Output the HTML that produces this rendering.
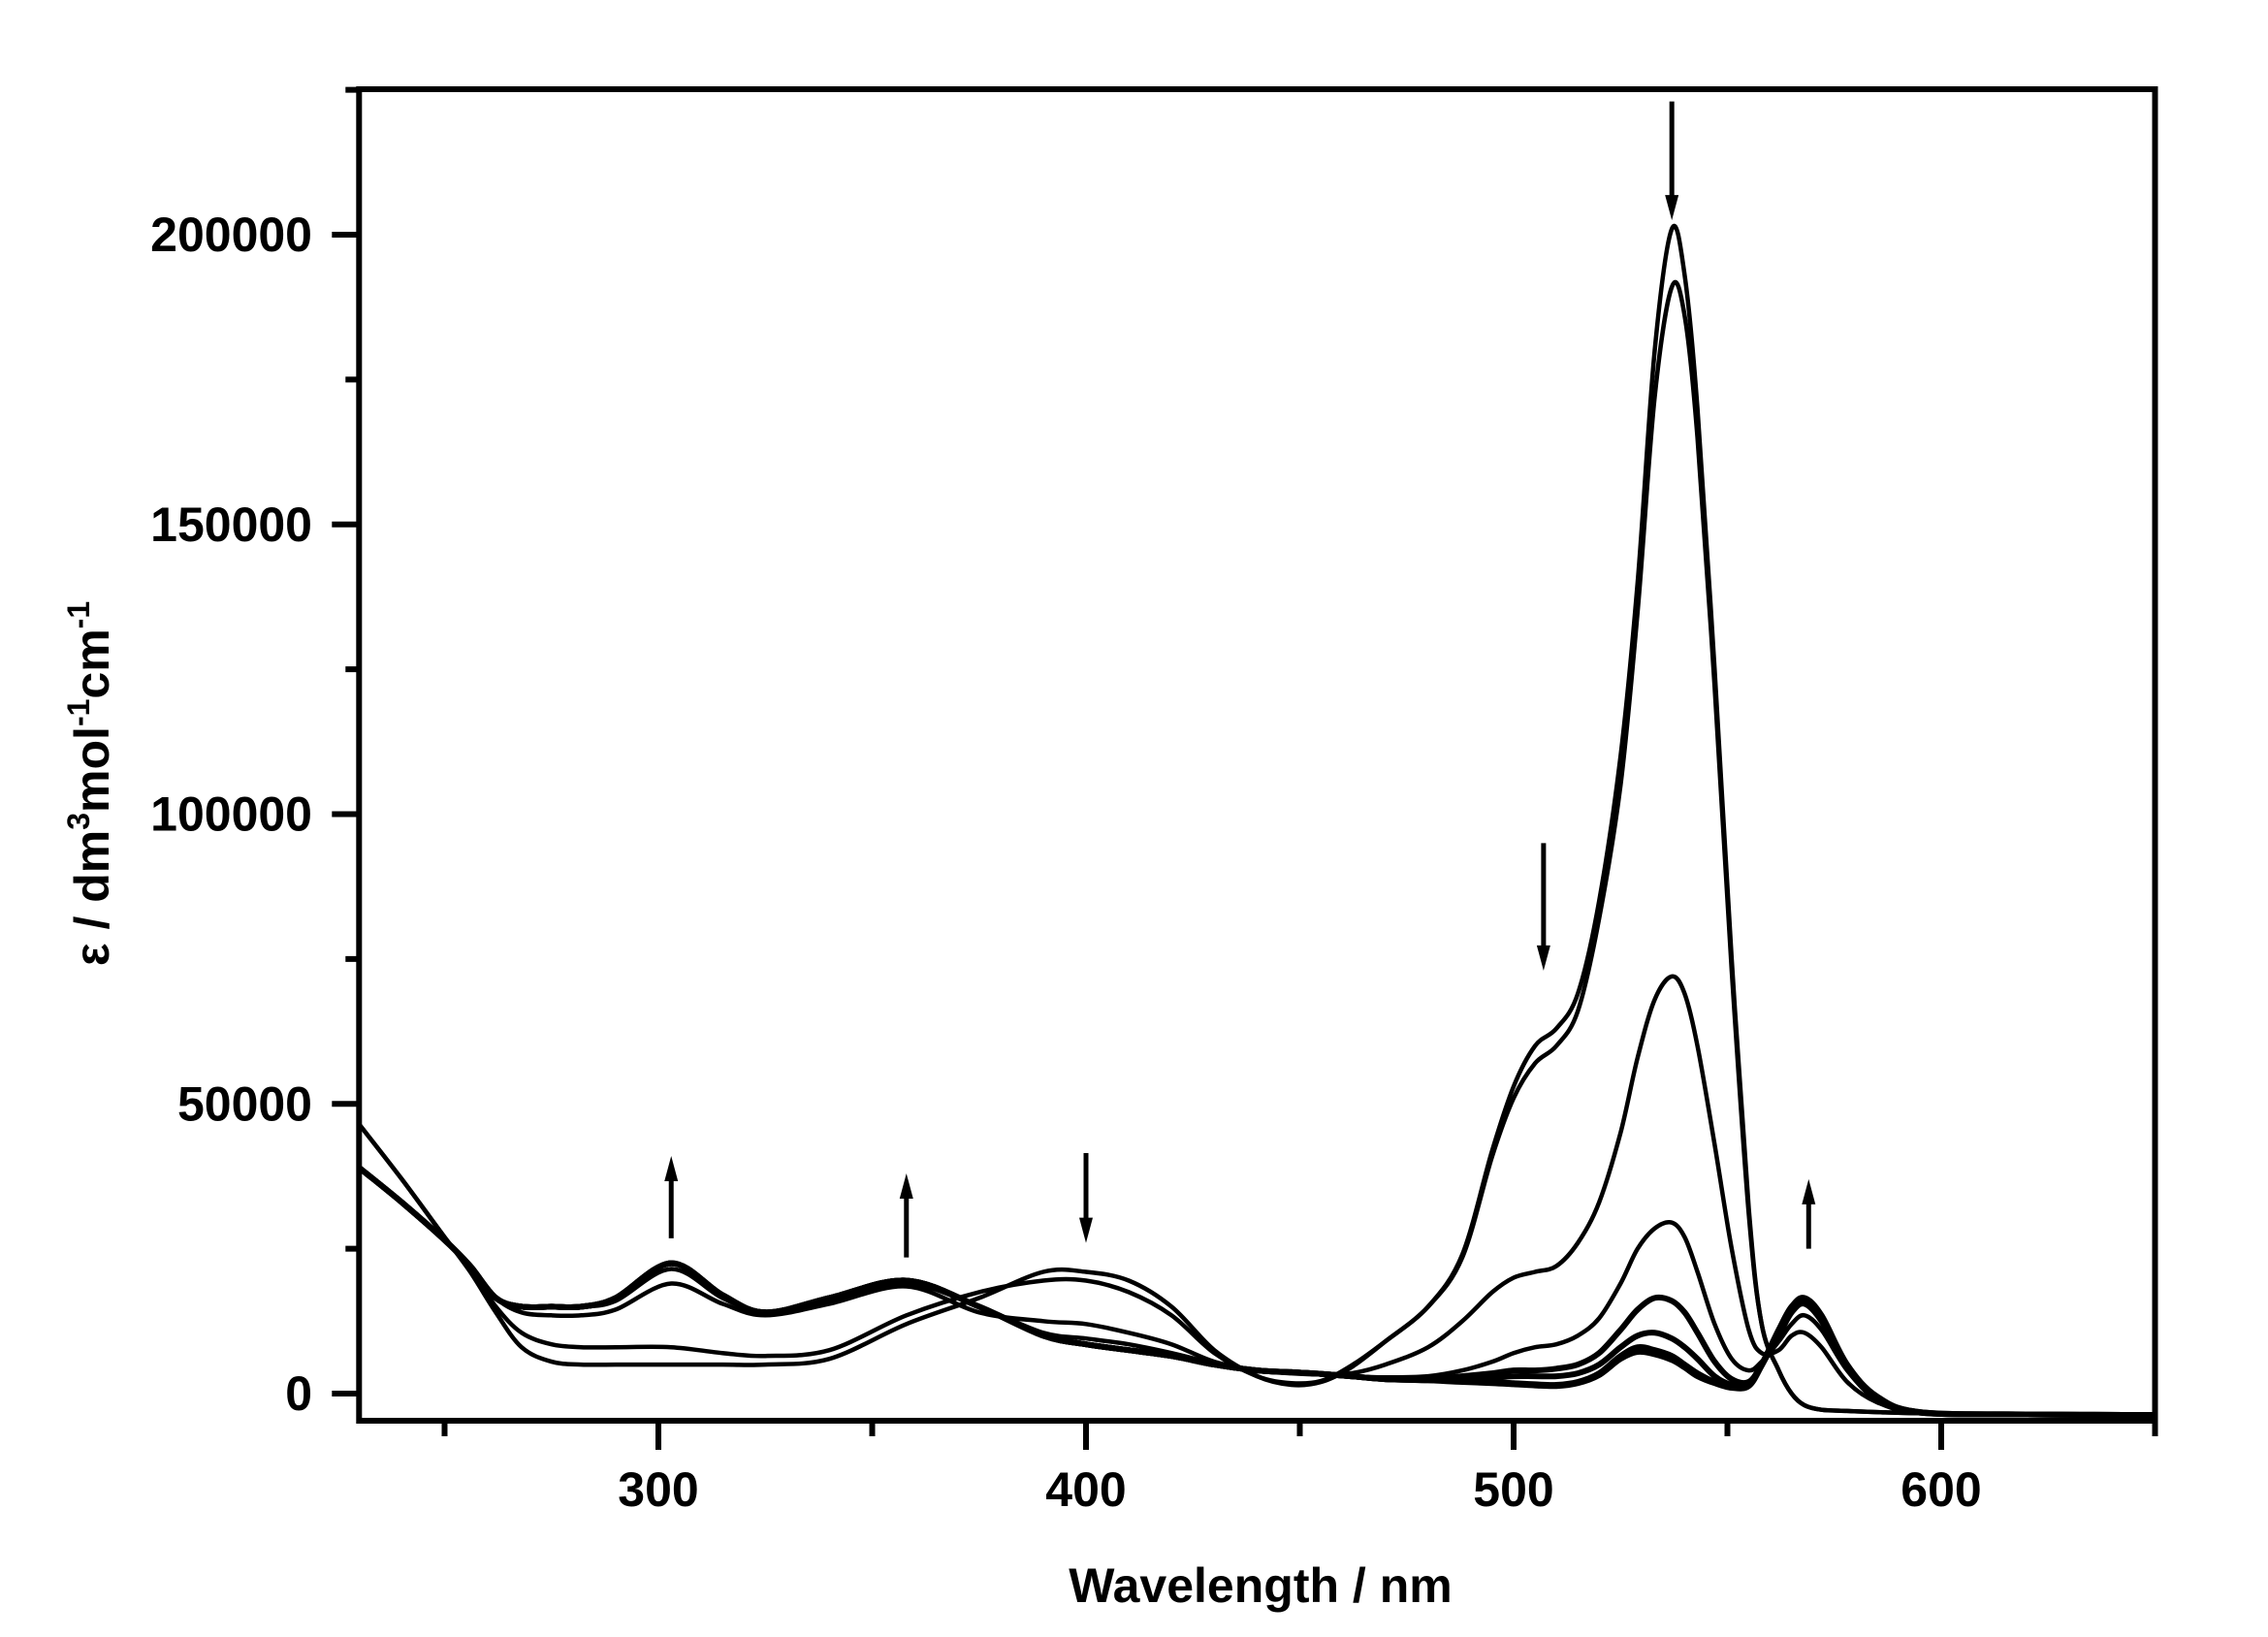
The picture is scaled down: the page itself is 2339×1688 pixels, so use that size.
<!DOCTYPE html>
<html><head><meta charset="utf-8"><style>
html,body{margin:0;padding:0;background:#fff;}
svg{display:block;}
text{font-family:"Liberation Sans",Arial,sans-serif;font-weight:bold;fill:#000;}
</style></head><body>
<svg id="chart" width="2339" height="1688" viewBox="0 0 2339 1688" xmlns="http://www.w3.org/2000/svg">
<defs><clipPath id="plotclip"><rect x="373" y="94" width="1848" height="1369"/></clipPath></defs>
<g id="axes"></g>
<g id="series" clip-path="url(#plotclip)"></g>
<g id="arrows"></g>
<text x="1300" y="1652" font-size="50" text-anchor="middle">Wavelength / nm</text>
<text transform="translate(112,808) rotate(-90)" font-size="50" text-anchor="middle">ε / dm<tspan font-size="32" dy="-20">3</tspan><tspan dy="20">mol</tspan><tspan font-size="32" dy="-20">-1</tspan><tspan dy="20">cm</tspan><tspan font-size="32" dy="-20">-1</tspan></text>
</svg>
<script>
const wavelengths=[230,240,250,256,262,268,275,282,290,303,315,325,340,358,375,390,400,410,420,430,440,448,455,462,470,480,488,495,500,505,510,515,520,525,529,533,537,540,543,547,551,555,558,562,565,568,572,578,585,595,620,650];
const c1=[46500,37000,27000,21000,14000,8000,5500,5000,5000,5000,5000,5000,6000,12000,16500,21000,21000,19500,15000,7500,3000,1500,2000,4500,9000,15000,24000,42000,53000,60000,63000,69000,85000,110000,140000,180000,201000,193000,170000,125000,75000,32000,12000,4000,0,-2000,-2800,-3000,-3200,-3400,-3600,-3700];
const c2=[46500,37000,27000,21500,15000,10500,8500,8000,8000,8000,7000,6500,7500,13500,17500,19500,19500,17500,13500,7000,3000,1800,2200,4800,9000,15000,23500,41000,51000,57000,60000,66000,82000,105000,135000,172000,191000,186000,165000,122000,73000,31000,12000,4000,0,-2000,-2800,-3000,-3200,-3400,-3600,-3700];
const c3=[39000,33000,26500,22000,16500,14000,13500,13500,14500,19000,15500,13500,15500,18500,14000,12500,12000,10500,8500,5500,4000,3500,3300,3500,5000,8000,12500,17500,20000,21000,22000,26000,33000,45000,58000,68000,72000,69000,60000,43000,25000,11000,7000,7500,10000,10500,8000,2000,-1500,-3300,-3600,-3700];
const c4=[39000,33000,26500,22000,16500,15000,15000,15000,16000,21500,16500,14000,16000,19000,15000,10500,9500,8500,7000,5200,4000,3700,3400,3000,2800,3000,4000,5500,7000,8000,8500,10000,13000,19000,25000,28500,29500,27000,21000,12000,6000,4000,5500,9000,12000,13500,11000,4000,-1000,-3300,-3600,-3700];
const c5=[39000,33000,26500,22000,16500,15000,15000,15000,16500,22500,17000,14000,16500,19500,15000,10000,8500,7500,6500,5000,4000,3700,3400,3000,2500,2500,3000,3500,4000,4000,4300,5000,7000,11000,14500,16500,16000,14000,10500,5500,2500,2000,5000,10000,14000,15500,12500,4500,-1000,-3300,-3600,-3700];
const c6=[39000,33000,26500,22000,16500,15000,15000,15000,16500,22500,17000,14000,16500,19500,15000,10000,8500,7500,6500,5000,4000,3700,3400,3000,2500,2500,2500,2800,3000,3000,3000,3500,5000,8000,10000,10500,9500,8000,6000,3000,1500,1500,5000,11000,15000,16000,13000,4800,-800,-3300,-3600,-3700];
const c7=[39000,33000,26500,22000,16500,15000,15000,15000,16500,22500,17000,14000,16500,19500,15000,10000,8500,7500,6500,5000,4000,3700,3400,3000,2500,2300,2200,2000,1800,1600,1500,2000,3500,6500,8000,7500,6500,5000,3500,2000,1200,1500,5000,11000,15000,16500,13500,5000,-500,-3200,-3600,-3700];
const c8=[39000,33000,26500,22000,16500,15000,15000,15000,16500,22500,17000,14000,16500,19500,15000,10000,8500,7500,6500,5000,4000,3700,3400,3000,2500,2300,2000,1800,1600,1400,1300,1800,3200,6000,7200,6800,5800,4500,3000,1800,1000,1300,4800,10500,14500,16200,13200,4800,-600,-3200,-3600,-3700];
const seriesList=[c1,c2,c3,c4,c5,c6,c7,c8];
const xTickLabels=[300,400,500,600];
const xMinorTicks=[250,350,450,550,650];
const yTickLabels=[0,50000,100000,150000,200000];
const yMinorTicks=[25000,75000,125000,175000,225000];
const arrowX=[303,358,400,507,537,569];
const arrowFrom=[26800,23500,41500,95000,223000,25000];
const arrowTo=[41000,38000,26000,73000,202500,37000];

const X0=679, PXNM=4.41, Y0=1437, PXV=5.975/1000;
function xs(w){return X0+(w-300)*PXNM;}
function ys(v){return Y0-v*PXV;}
const NS='http://www.w3.org/2000/svg';
function mk(tag,attrs,parent){const e=document.createElementNS(NS,tag);for(const k in attrs)e.setAttribute(k,attrs[k]);parent.appendChild(e);return e;}
const axes=document.getElementById('axes');
const L=xs(230),R=xs(650),T=92,B=1465;
let fr=mk('rect',{x:L,y:T,width:R-L,height:B-T,fill:'none',stroke:'#000','stroke-width':6},axes);


xTickLabels.forEach(w=>{
  let t=mk('line',{x1:xs(w),x2:xs(w),y1:B,y2:B+30,stroke:'#000','stroke-width':6},axes);
  
  
  let tx=mk('text',{x:xs(w),y:1553,'font-size':50,'text-anchor':'middle'},axes);
  tx.textContent=w;
  
  
});
xMinorTicks.forEach(w=>{
  let t=mk('line',{x1:xs(w),x2:xs(w),y1:B,y2:B+16,stroke:'#000','stroke-width':6},axes);
  
  
});
yTickLabels.forEach(v=>{
  let t=mk('line',{x1:L-28,x2:L,y1:ys(v),y2:ys(v),stroke:'#000','stroke-width':6},axes);
  
  
  let tx=mk('text',{x:322,y:ys(v)+17,'font-size':50,'text-anchor':'end'},axes);
  tx.textContent=v;
  
  
});
yMinorTicks.forEach(v=>{
  let t=mk('line',{x1:L-14,x2:L,y1:ys(v),y2:ys(v),stroke:'#000','stroke-width':6},axes);
  
  
});
function smoothPath(ws,vs){
  const p=ws.map((w,i)=>[xs(w),ys(vs[i])]);
  let d='M'+p[0][0].toFixed(1)+','+p[0][1].toFixed(1);
  for(let i=0;i<p.length-1;i++){
    const p0=p[Math.max(0,i-1)],p1=p[i],p2=p[i+1],p3=p[Math.min(p.length-1,i+2)];
    const c1x=p1[0]+(p2[0]-p0[0])/6,c1y=p1[1]+(p2[1]-p0[1])/6;
    const c2x=p2[0]-(p3[0]-p1[0])/6,c2y=p2[1]-(p3[1]-p1[1])/6;
    d+=' C'+c1x.toFixed(1)+','+c1y.toFixed(1)+' '+c2x.toFixed(1)+','+c2y.toFixed(1)+' '+p2[0].toFixed(1)+','+p2[1].toFixed(1);
  }
  return d;
}
const sg=document.getElementById('series');
seriesList.forEach((s,i)=>{
  let pth=mk('path',{d:smoothPath(wavelengths,s),fill:'none',stroke:'#000','stroke-width':i>=4?6:4.5,'stroke-linejoin':'round'},sg);
  
  
});
const ag=document.getElementById('arrows');
arrowX.forEach((w,i)=>{
  const x=xs(w),y1=ys(arrowFrom[i]),y2=ys(arrowTo[i]);
  const dir=y2<y1?-1:1;
  let ln=mk('line',{x1:x,x2:x,y1:y1,y2:y2-dir*22,stroke:'#000','stroke-width':5},ag);
  
  
  let hd=mk('polygon',{points:`${x-7},${y2-dir*26} ${x+7},${y2-dir*26} ${x},${y2}`,fill:'#000'},ag);
  
  
});
</script>
</body></html>
